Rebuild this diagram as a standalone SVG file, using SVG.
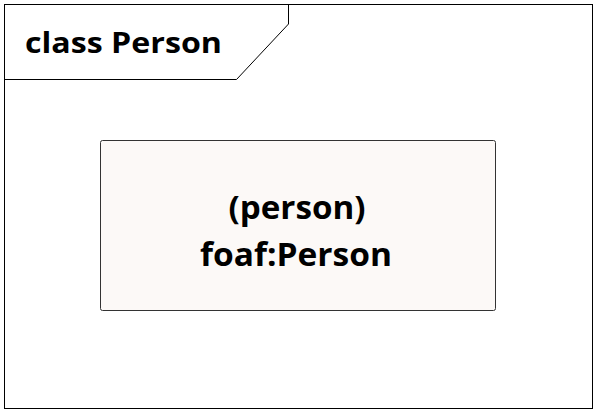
<svg xmlns="http://www.w3.org/2000/svg" width="596" height="412" viewBox="0 0 596 412">
<style>
.frame{fill:#FFFFFF;stroke:#000000;stroke-width:1}
.node{fill:#FCF9F7;stroke:#333333;stroke-width:1}
.t{font-family:"Open Sans","Liberation Sans",sans-serif;font-weight:bold;fill:#000000}
</style>
<g id="frame">
<rect class="frame" x="4.5" y="4.5" width="588" height="404"/>
<path d="M4.5 79.5 H236.5 L288.5 24 V4.5" fill="none" stroke="#000" stroke-width="1"/>
<text class="t" x="25" y="53" font-size="29" textLength="197" lengthAdjust="spacingAndGlyphs">class Person</text>
</g>
<g id="connectors"></g>
<g id="person">
<rect class="node" x="100.5" y="140.5" width="395" height="170" rx="2" ry="2"/>
<text class="t" x="297" y="219" font-size="32" text-anchor="middle" textLength="137" lengthAdjust="spacingAndGlyphs">(person)</text>
<text class="t" x="296" y="266" font-size="32" text-anchor="middle" textLength="192" lengthAdjust="spacingAndGlyphs">foaf:Person</text>
</g>
</svg>
